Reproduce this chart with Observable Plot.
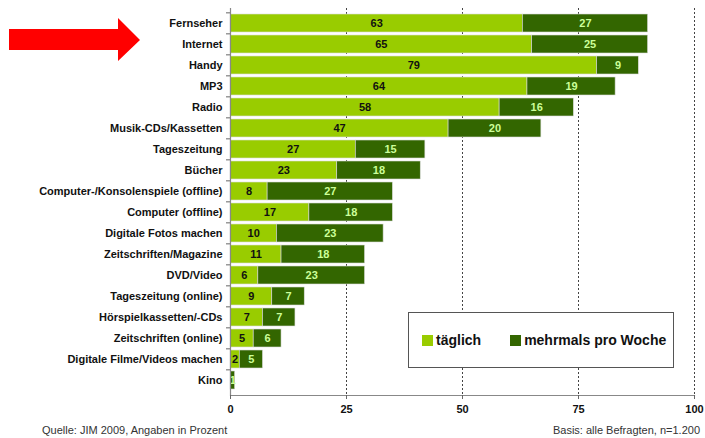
<!DOCTYPE html>
<html>
<head>
<meta charset="utf-8">
<script src="https://cdn.jsdelivr.net/npm/d3@7"></script>
<script src="https://cdn.jsdelivr.net/npm/@observablehq/plot@0.6"></script>
<style>
  html, body { margin: 0; padding: 0; background: #fff; }
  #wrap { position: relative; width: 705px; height: 438px; overflow: hidden; font-family: "Liberation Sans", Arial, sans-serif; }
  #arrow { position: absolute; left: 0; top: 0; }
  #legend { position: absolute; left: 408px; top: 312px; width: 264px; height: 54px; border: 1px solid #555; background: #fff; box-sizing: content-box;
            display: flex; align-items: center; font-weight: bold; font-size: 14px; color: #111; }
  .sw { display: inline-block; width: 11px; height: 11px; margin-right: 3px; vertical-align: -1px; }
  .cap { position: absolute; top: 424px; font-size: 11px; color: #333; white-space: nowrap; }
</style>
</head>
<body>
<div id="wrap">
  <div id="chart"></div>
  <svg id="arrow" width="150" height="70"><polygon points="9,29 118,29 118,18 140,40 118,61 118,50 9,50" fill="#ff0000"/></svg>
  <div id="legend"></div>
  <div class="cap" style="left:42px">Quelle: JIM 2009, Angaben in Prozent</div>
  <div class="cap" style="right:5px">Basis: alle Befragten, n=1.200</div>
</div>
<script>
const categories = [
  "Fernseher", "Internet", "Handy", "MP3", "Radio", "Musik-CDs/Kassetten",
  "Tageszeitung", "Bücher", "Computer-/Konsolenspiele (offline)", "Computer (offline)",
  "Digitale Fotos machen", "Zeitschriften/Magazine", "DVD/Video", "Tageszeitung (online)",
  "Hörspielkassetten/-CDs", "Zeitschriften (online)", "Digitale Filme/Videos machen", "Kino"
];
const taeglich  = [63, 65, 79, 64, 58, 47, 27, 23, 8, 17, 10, 11, 6, 9, 7, 5, 2, 0];
const mehrmals  = [27, 25, 9, 19, 16, 20, 15, 18, 27, 18, 23, 18, 23, 7, 7, 6, 5, 1];
const seriesNames = ["täglich", "mehrmals pro Woche"];
const seriesColors = ["#99cc00", "#336600"];
const labelColors = ["#111111", "#ccff99"];
const xTicks = [0, 25, 50, 75, 100];

const data = categories.flatMap((c, i) => [
  {cat: c, series: seriesNames[0], value: taeglich[i]},
  {cat: c, series: seriesNames[1], value: mehrmals[i]}
]);

const H = 420, MT = 8, MB = 25, PAD = 0.16;
const step = (H - MT - MB) / (categories.length - PAD + 2 * PAD);

const stackOpts = {x: "value", y: "cat", z: "series"};

const chart = Plot.plot({
  width: 705,
  height: H,
  marginLeft: 230,
  marginRight: 11,
  marginTop: MT,
  marginBottom: MB,
  x: {domain: [0, 100], ticks: xTicks, label: null},
  y: {domain: categories, padding: PAD, label: null},
  color: {domain: seriesNames, range: seriesColors},
  style: {fontFamily: "'Liberation Sans', Arial, sans-serif", fontSize: "11px", fontWeight: "bold", color: "#111", background: "transparent"},
  marks: [
    Plot.ruleX(xTicks.slice(1), {stroke: "#444", strokeDasharray: "2,2", strokeWidth: 1}),
    Plot.barX(data, Plot.stackX({...stackOpts, fill: "series", stroke: "#dcdcdc", strokeWidth: 0.6})),
    Plot.text(data, Plot.filter(d => d.series === seriesNames[0] && d.value > 0,
      Plot.stackX({...stackOpts, text: "value", fill: labelColors[0], fontWeight: "bold", fontSize: 11}))),
    Plot.text(data, Plot.filter(d => d.series === seriesNames[1] && d.value > 0,
      Plot.stackX({...stackOpts, text: "value", fill: labelColors[1], fontWeight: "bold", fontSize: 11}))),
    Plot.ruleX([0], {stroke: "#888", strokeWidth: 1.2}),
    Plot.frame({anchor: "bottom", stroke: "#888", strokeWidth: 1.2}),
    Plot.axisY({tickSize: 0, tickPadding: 8, fontWeight: "bold", fill: "#111"}),
    Plot.axisY({tickSize: 4, tickFormat: () => "", dy: -step / 2, stroke: "#666"}),
    Plot.axisX({ticks: xTicks, tickSize: 4, tickPadding: 6, stroke: "#666", fontWeight: "bold", fill: "#111"})
  ]
});
document.getElementById("chart").appendChild(chart);

const legend = document.getElementById("legend");
legend.innerHTML =
  `<span style="margin-left:13px"><span class="sw" style="background:${seriesColors[0]}"></span>${seriesNames[0]}</span>` +
  `<span style="margin-left:29px"><span class="sw" style="background:${seriesColors[1]}"></span>${seriesNames[1]}</span>`;
</script>
</body>
</html>
